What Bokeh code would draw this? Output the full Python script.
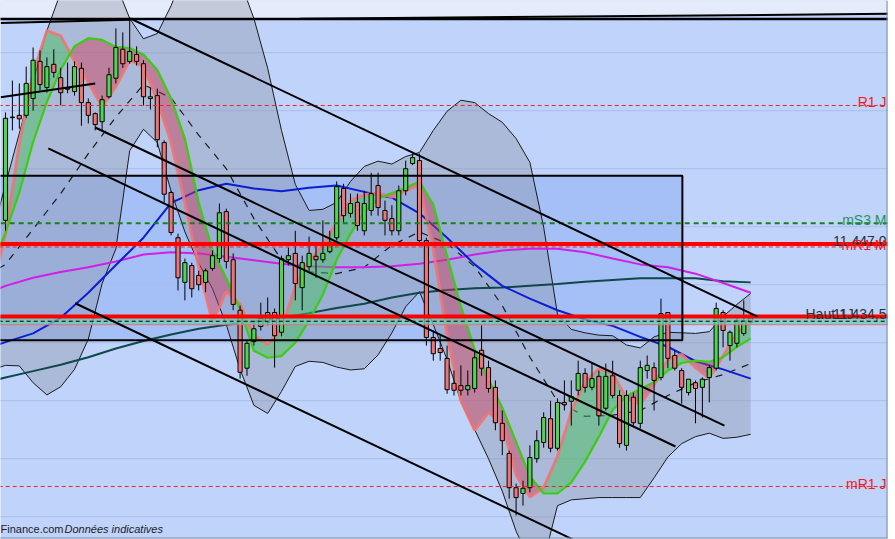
import numpy as np
from bokeh.plotting import figure
from bokeh.models import Range1d, ColumnDataSource, Label
from bokeh.embed import file_html
from bokeh.resources import INLINE

# ---------------- candles (index, OHLC) ----------------
OPEN = [11451.1, 11468.9, 11469.2, 11469.2, 11472.1, 11478.5, 11474.0, 11478.0, 11475.7, 11473.9,
        11473.3, 11477.3, 11471.4, 11469.5, 11468.1, 11472.4, 11475.6, 11480.6, 11478.5, 11479.7,
        11478.1, 11472.1, 11472.6, 11464.5, 11455.9, 11448.1, 11440.4, 11443.3, 11441.6, 11440.4,
        11442.8, 11444.5, 11452.6, 11444.3, 11435.6, 11425.6, 11430.2, 11432.8, 11433.5, 11435.2,
        11431.8, 11444.3, 11445.4, 11439.5, 11443.1, 11444.9, 11444.3, 11445.7, 11448.1, 11456.6,
        11452.3, 11454.2, 11449.3, 11452.8, 11457.1, 11452.8, 11451.4, 11449.3, 11456.2, 11460.9,
        11461.4, 11447.6, 11430.9, 11429.0, 11427.3, 11423.0, 11422.6, 11421.9, 11422.1, 11428.7,
        11425.7, 11422.3, 11416.1, 11410.9, 11405.0, 11404.0, 11405.0, 11410.0, 11412.8, 11416.9,
        11411.8, 11419.7, 11419.9, 11421.8, 11424.7, 11422.3, 11424.2, 11418.7, 11424.3, 11420.9,
        11412.3, 11420.6, 11416.1, 11425.2, 11425.7, 11424.0, 11435.2, 11427.8, 11425.2, 11421.4,
        11423.1, 11422.3, 11424.0, 11425.6, 11435.2, 11429.5, 11429.9, 11431.6, 11433.5]
HIGH = [11469.7, 11475.2, 11474.7, 11477.6, 11480.9, 11480.4, 11479.2, 11480.6, 11477.4, 11478.3,
        11478.5, 11478.3, 11472.1, 11469.7, 11472.6, 11477.4, 11484.2, 11483.5, 11486.1, 11481.1,
        11478.7, 11474.0, 11473.8, 11464.9, 11456.2, 11448.8, 11444.5, 11443.8, 11442.4, 11442.8,
        11445.9, 11454.0, 11453.1, 11445.4, 11436.4, 11430.4, 11433.5, 11436.9, 11437.8, 11435.9,
        11445.0, 11446.4, 11449.3, 11445.0, 11448.3, 11446.8, 11451.1, 11449.3, 11457.8, 11457.4,
        11455.7, 11455.7, 11456.2, 11459.3, 11459.3, 11454.5, 11453.7, 11457.1, 11461.4, 11462.6,
        11462.6, 11448.1, 11432.1, 11431.2, 11429.5, 11425.2, 11426.1, 11425.2, 11428.7, 11433.0,
        11426.9, 11423.5, 11418.3, 11411.4, 11405.7, 11406.2, 11412.3, 11414.9, 11418.0, 11420.0,
        11420.4, 11423.5, 11423.5, 11426.9, 11425.6, 11426.6, 11425.2, 11426.4, 11426.9, 11421.8,
        11421.8, 11421.4, 11426.9, 11427.8, 11426.6, 11437.6, 11435.2, 11428.7, 11425.6, 11423.7,
        11423.5, 11424.0, 11426.1, 11436.9, 11435.6, 11432.1, 11434.3, 11437.3, 11435.0]
LOW = [11449.3, 11466.6, 11466.9, 11468.7, 11470.0, 11473.5, 11473.1, 11475.7, 11470.9, 11473.0,
       11472.6, 11467.4, 11467.8, 11466.6, 11466.6, 11472.1, 11474.7, 11477.4, 11478.1, 11477.8,
       11470.9, 11470.2, 11463.7, 11454.2, 11448.5, 11439.0, 11437.3, 11437.8, 11439.0, 11438.7,
       11442.4, 11443.8, 11442.8, 11435.6, 11423.8, 11424.3, 11429.5, 11432.1, 11433.0, 11425.7,
       11431.1, 11443.3, 11437.3, 11435.6, 11442.4, 11441.2, 11443.8, 11445.4, 11447.6, 11450.7,
       11451.6, 11449.3, 11448.5, 11451.9, 11451.9, 11448.5, 11448.5, 11448.5, 11455.4, 11460.6,
       11447.3, 11429.5, 11426.9, 11426.9, 11421.2, 11420.9, 11420.9, 11420.9, 11421.4, 11424.3,
       11421.4, 11414.9, 11410.6, 11403.1, 11400.2, 11401.9, 11404.2, 11409.3, 11411.9, 11411.1,
       11411.4, 11418.3, 11415.7, 11420.9, 11421.4, 11421.8, 11415.7, 11418.3, 11420.4, 11411.9,
       11411.4, 11415.7, 11415.2, 11423.8, 11418.3, 11423.5, 11425.6, 11425.2, 11419.5, 11420.9,
       11416.1, 11417.1, 11419.7, 11425.2, 11429.2, 11426.9, 11429.2, 11431.2, 11433.3]
CLOSE = [11468.7, 11468.8, 11468.6, 11474.7, 11478.7, 11474.5, 11477.6, 11476.6, 11473.1, 11473.7,
         11477.6, 11471.4, 11469.2, 11467.6, 11471.9, 11476.2, 11480.9, 11478.1, 11480.2, 11478.5,
         11472.4, 11472.4, 11465.0, 11455.6, 11449.0, 11441.2, 11443.8, 11439.3, 11440.0, 11442.4,
         11445.0, 11452.4, 11444.0, 11436.6, 11424.9, 11429.9, 11432.4, 11434.2, 11435.2, 11431.2,
         11444.5, 11445.0, 11440.2, 11443.8, 11445.4, 11444.3, 11445.4, 11447.3, 11456.9, 11451.9,
         11454.0, 11450.2, 11454.0, 11455.7, 11453.3, 11451.1, 11449.3, 11456.2, 11460.0, 11461.9,
         11447.6, 11430.9, 11428.1, 11428.3, 11421.9, 11421.8, 11421.8, 11422.6, 11427.4, 11425.6,
         11422.1, 11416.2, 11413.1, 11405.0, 11403.3, 11404.9, 11410.2, 11413.1, 11417.1, 11411.8,
         11419.7, 11419.3, 11420.7, 11424.7, 11422.3, 11423.8, 11417.4, 11424.2, 11420.9, 11412.6,
         11420.9, 11416.2, 11425.7, 11426.1, 11423.5, 11435.0, 11427.3, 11425.6, 11422.3, 11423.7,
         11422.1, 11423.7, 11425.7, 11435.9, 11432.1, 11431.8, 11433.8, 11433.8, 11434.3]

# ---------------- indicators (bar positions where they were read) ----------------
IDX2 = [-1] + list(range(0, 109, 2))
IDX4 = [-1] + list(range(0, 109, 4))
FAST_MA = [11443.8,
           11448.7, 11464.2, 11476.4, 11483.8, 11482.9, 11478.5, 11474.9, 11470.7, 11474.2, 11478.7,
           11477.6, 11471.8, 11464.5, 11454.2, 11443.0, 11433.5, 11438.8, 11436.6, 11431.3, 11429.7,
           11432.3, 11439.7, 11444.1, 11446.8, 11450.7, 11454.5, 11455.5, 11455.8, 11455.1, 11456.2,
           11457.2, 11446.1, 11431.3, 11420.0, 11414.9, 11418.0, 11415.9, 11407.2, 11403.4, 11405.0,
           11410.4, 11418.1, 11423.3, 11425.5, 11424.7, 11420.4, 11419.4, 11422.7, 11427.1, 11428.0,
           11425.7, 11423.9, 11427.7, 11431.7, 11433.7]
SLOW_MA = [11446.1,
           11449.0, 11455.9, 11464.6, 11471.5, 11477.1, 11481.1, 11482.5, 11482.2, 11481.0, 11480.8,
           11479.7, 11477.0, 11472.1, 11465.2, 11454.2, 11445.9, 11441.1, 11435.7, 11428.6, 11427.4,
           11427.7, 11430.0, 11433.8, 11438.3, 11444.3, 11448.8, 11452.5, 11454.8, 11455.8, 11456.7,
           11457.8, 11453.8, 11445.0, 11436.3, 11428.8, 11423.7, 11418.8, 11412.9, 11407.0, 11404.0,
           11404.0, 11405.9, 11409.5, 11413.8, 11418.4, 11420.8, 11422.0, 11423.2, 11425.2, 11426.5,
           11426.9, 11426.7, 11427.5, 11429.3, 11430.7]
BB_UP = [11452.8,
         11457.3, 11466.1, 11475.0, 11483.8, 11490.4, 11495.9, 11497.6, 11495.9, 11491.9, 11485.9,
         11482.4, 11483.3, 11488.1, 11494.2, 11496.8, 11497.6, 11495.9, 11492.4, 11485.9, 11477.3,
         11466.6, 11457.3, 11452.8, 11453.0, 11454.2, 11457.8, 11460.4, 11461.3, 11460.8, 11462.1,
         11462.8, 11466.6, 11469.9, 11471.8, 11471.4, 11469.5, 11468.0, 11465.2, 11461.1, 11449.9,
         11434.9, 11432.3, 11431.7, 11431.3, 11431.2, 11429.6, 11429.1, 11431.0, 11431.8, 11431.7,
         11431.6, 11431.9, 11434.5, 11436.6, 11438.5]
BB_LOW = [11425.7,
          11426.1, 11426.0, 11423.1, 11421.0, 11422.4, 11425.4, 11430.6, 11440.2, 11446.2, 11463.1,
          11466.8, 11464.5, 11456.1, 11449.1, 11443.7, 11439.3, 11433.1, 11425.4, 11419.2, 11417.8,
          11421.6, 11425.9, 11426.8, 11426.6, 11425.8, 11425.3, 11425.5, 11427.9, 11431.7, 11436.2,
          11438.8, 11433.1, 11427.1, 11419.9, 11415.0, 11410.0, 11404.4, 11397.5, 11392.5, 11392.5,
          11401.9, 11402.9, 11403.1, 11403.3, 11403.3, 11403.3, 11403.3, 11406.7, 11410.3, 11412.6,
          11413.8, 11414.4, 11413.5, 11413.7, 11414.2]
BB_MID = [11442.8,
          11443.5, 11449.6, 11455.7, 11462.6, 11468.9, 11474.5, 11472.2, 11465.8, 11460.0, 11451.4,
          11444.3, 11442.2, 11441.9, 11443.0, 11446.8, 11449.1, 11447.1, 11443.1, 11436.4, 11427.5,
          11419.9, 11417.3, 11417.5, 11418.3, 11420.9, 11423.1, 11424.5, 11426.4]
MA_BLUE = [11429.7,
           11430.1, 11431.6, 11434.3, 11438.6, 11443.4, 11448.1, 11454.1, 11456.3, 11457.4, 11456.6,
           11456.1, 11456.7, 11457.1, 11456.0, 11455.0, 11452.3, 11448.1, 11443.5, 11439.8, 11437.6,
           11435.6, 11434.0, 11432.9, 11431.0, 11429.3, 11426.8, 11425.4, 11423.8]
MA_MAGENTA = [11439.3,
              11439.8, 11441.2, 11442.2, 11443.0, 11444.0, 11445.2, 11445.6, 11445.4, 11444.8, 11444.2,
              11443.6, 11443.2, 11443.0, 11443.0, 11443.2, 11443.6, 11444.3, 11445.2, 11445.9, 11446.2,
              11446.2, 11445.6, 11444.5, 11443.5, 11443.0, 11441.9, 11440.3, 11438.6]
MA_TEAL = [11423.7,
           11424.0, 11425.1, 11426.2, 11427.5, 11429.0, 11430.3, 11431.4, 11432.4, 11433.1, 11433.6,
           11434.3, 11435.1, 11436.0, 11436.7, 11437.8, 11438.6, 11439.1, 11439.4, 11439.5, 11439.8,
           11440.1, 11440.5, 11440.8, 11441.1, 11441.1, 11441.1, 11440.6, 11440.4]

# ---------------- levels / drawings ----------------
GRID_PRICES = [11400, 11410, 11420, 11430, 11440, 11450, 11460, 11470, 11480]
R1_J = 11470.9
MS3_M = 11450.6
LEVEL_A = 11447.0
MR1_M = 11446.5
HAUT_1J = 11434.5
PIVOT_BAND = (11433.1, 11434.2)
PIVOT_DASH = 11433.7
MR1_J = 11405.2
TOP_LINE = 11485.8
BOX_X = (-1.0, 98.1)
BOX_P = (11430.4, 11458.8)
TL_X0 = [18.1, -0.7, 13.0, 6.2, 10.1, -0.7, 42.7]
TL_P0 = [11485.9, 11472.3, 11467.1, 11463.5, 11436.8, 11485.1, 11485.85]
TL_X1 = [109.0, 13.0, 104.2, 97.1, 82.2, 18.1, 128.0]
TL_P1 = [11434.5, 11474.7, 11415.7, 11412.1, 11396.1, 11485.7, 11486.7]

# view window (plot area = reference pixels 0..887 x 0..538)
X0, X1 = -0.725, 127.83
Y0, Y1 = 11396.24, 11489.0

BG = "#bfd3fb"
p = figure(width=895, height=539, x_range=Range1d(X0, X1), y_range=Range1d(Y0, Y1),
           output_backend="svg", toolbar_location=None, x_axis_location=None,
           y_axis_location=None, min_border_left=0, min_border_top=0,
           min_border_right=8, min_border_bottom=1, background_fill_color=BG,
           border_fill_color="white", outline_line_color=None)
p.grid.visible = False

# light top strip
p.patch([-2, 42.7, 130, 130, -2], [TOP_LINE, 11485.85, 11486.7, 11495, 11495],
        fill_color="#e4ecfc", line_color=None)
# box fill
p.quad(left=[BOX_X[0]], right=[BOX_X[1]], bottom=[BOX_P[0]], top=[BOX_P[1]],
       fill_color="#a4c0f7", line_color=None)
# grid lines
p.segment(x0=[-2] * len(GRID_PRICES), x1=[130] * len(GRID_PRICES), y0=GRID_PRICES, y1=GRID_PRICES,
          line_color="#a9bdea", line_width=1)

# bollinger envelope
p.varea(x=IDX2, y1=BB_LOW, y2=BB_UP, fill_color="#8a8c9e", fill_alpha=0.36)
p.line(IDX2, BB_UP, line_color="#1a1a1a", line_width=1)
p.line(IDX2, BB_LOW, line_color="#1a1a1a", line_width=1)
p.line(IDX4, BB_MID, line_color="#1a1a1a", line_width=1.2, line_dash="7 7")

# moving averages
p.line(IDX4, MA_TEAL, line_color="#0e4848", line_width=2)
p.line(IDX4, MA_MAGENTA, line_color="#d21ee6", line_width=2)
p.line(IDX4, MA_BLUE, line_color="#0a1ed2", line_width=2)

# fast / slow fill with crossing points
xs = np.array(IDX2, float)
f = np.array(FAST_MA)
s = np.array(SLOW_MA)
X, F, S = [xs[0]], [f[0]], [s[0]]
for k in range(1, len(xs)):
    d0, d1 = f[k - 1] - s[k - 1], f[k] - s[k]
    if d0 * d1 < 0:
        t = d0 / (d0 - d1)
        xc = xs[k - 1] + t * (xs[k] - xs[k - 1])
        yc = f[k - 1] + t * (f[k] - f[k - 1])
        X.append(xc); F.append(yc); S.append(yc)
    X.append(xs[k]); F.append(f[k]); S.append(s[k])
X, F, S = np.array(X), np.array(F), np.array(S)
M = np.maximum(F, S)
p.varea(x=X, y1=S, y2=M, fill_color="#48c060", fill_alpha=0.5)
p.varea(x=X, y1=F, y2=M, fill_color="#d03a55", fill_alpha=0.45)
p.line(IDX2, FAST_MA, line_color="#ef7474", line_width=3, line_alpha=0.9)
p.line(IDX2, SLOW_MA, line_color="#3ccc12", line_width=2.2)

# candles
idx = np.arange(len(OPEN))
o, c = np.array(OPEN), np.array(CLOSE)
src = ColumnDataSource(dict(x=idx, top=np.maximum(o, c), bottom=np.minimum(o, c),
                            high=HIGH, low=LOW,
                            color=np.where(c >= o, "#4fd64f", "#f07474")))
p.segment(x0="x", y0="low", x1="x", y1="high", source=src, line_color="black", line_width=1)
p.vbar(x="x", width=0.6, top="top", bottom="bottom", fill_color="color",
       line_color="black", line_width=1, source=src)

# pivot band
p.quad(left=[-2], right=[130], bottom=[PIVOT_BAND[0]], top=[PIVOT_BAND[1]],
       fill_color="#70ccb4", fill_alpha=0.75, line_color=None)
p.segment(x0=[-2], x1=[130], y0=[PIVOT_DASH], y1=[PIVOT_DASH], line_color="black",
          line_width=1, line_dash="4 3")
p.segment(x0=[-2], x1=[130], y0=[PIVOT_BAND[0]], y1=[PIVOT_BAND[0]], line_color="#e07070",
          line_width=1)

# horizontal levels
for lv, col, w, dash in [(R1_J, "#e8262a", 1, "4 3"), (MR1_J, "#e8262a", 1, "4 3"),
                         (MS3_M, "#148214", 2, "5 4"), (MR1_M, "#e8262a", 1, "4 3")]:
    p.segment(x0=[-2], x1=[130], y0=[lv], y1=[lv], line_color=col, line_width=w, line_dash=dash)
p.segment(x0=[-2, -2], x1=[130, 130], y0=[LEVEL_A, HAUT_1J], y1=[LEVEL_A, HAUT_1J],
          line_color="#ff0000", line_width=4)

# box outline and trend lines
p.quad(left=[BOX_X[0]], right=[BOX_X[1]], bottom=[BOX_P[0]], top=[BOX_P[1]],
       fill_color=None, line_color="black", line_width=2)
p.segment(x0=[-2], x1=[130], y0=[TOP_LINE], y1=[TOP_LINE], line_color="black", line_width=2.5)
p.segment(x0=TL_X0, y0=TL_P0, x1=TL_X1, y1=TL_P1, line_color="black", line_width=2)

# plot-area right edge and bottom edge
p.segment(x0=[X1, -2], y0=[Y0, Y0], x1=[X1, 130], y1=[Y1, Y0], line_color="#7a8ca6", line_width=2)

# texts
FONT = "Liberation Sans"
def lab(txt, y, col, xs=886, off=3):
    p.add_layout(Label(x=xs, y=y, x_units="screen", y_units="data", text=txt,
                       text_align="right", text_baseline="alphabetic", y_offset=off,
                       text_color=col, text_font=FONT, text_font_size="14px"))

lab("R1 J", R1_J, "#ee1c1c")
lab("mS3 M", MS3_M, "#23955a")
lab("11 447,0", LEVEL_A, "#303030")
lab("mR1 M", MR1_M, "#ee1c1c", off=2)
lab("11 434,5", HAUT_1J, "#303030")
p.add_layout(Label(x=805, y=HAUT_1J, x_units="screen", y_units="data", text="Haut 1J",
                   text_align="left", text_baseline="alphabetic", y_offset=3,
                   text_color="#303030", text_font=FONT, text_font_size="14px"))
lab("mR1 J", MR1_J, "#ee1c1c")

p.add_layout(Label(x=0, y=4, x_units="screen", y_units="screen", text="Finance.com",
                   text_color="#1c1c1c", text_font=FONT, text_font_size="11px"))
p.add_layout(Label(x=64, y=4, x_units="screen", y_units="screen", text="Données indicatives",
                   text_color="#1c1c1c", text_font=FONT, text_font_size="11px",
                   text_font_style="italic"))

open("out.html", "w").write(file_html(p, INLINE))
